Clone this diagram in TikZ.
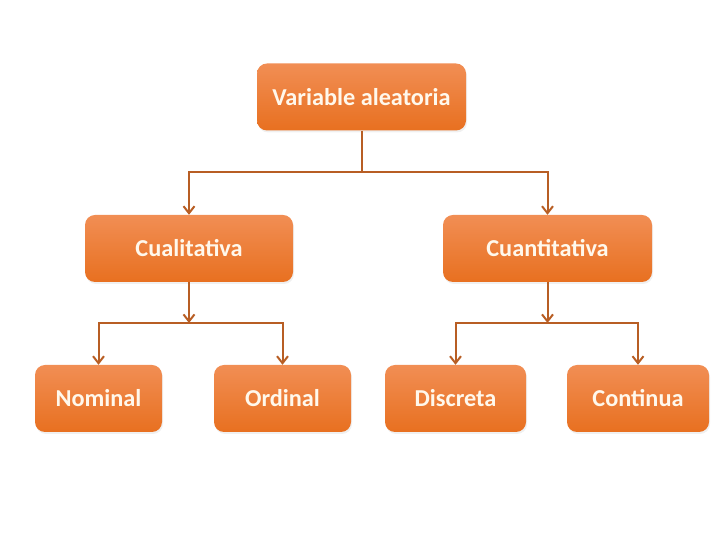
\documentclass[tikz,border=0pt]{standalone}
\usepackage{fontspec}
\setmainfont{Carlito}
\usetikzlibrary{arrows.meta,shadows}
\definecolor{orTop}{RGB}{241,142,84}
\definecolor{orBot}{RGB}{232,112,32}
\definecolor{lineC}{RGB}{184,94,36}
\definecolor{txtC}{RGB}{255,248,236}
\tikzset{
  box/.style={rounded corners=10pt, top color=orTop, bottom color=orBot, draw=none,
    minimum height=67pt, inner sep=0pt, text=txtC,
    font=\fontsize{24.3}{29}\selectfont\bfseries,
    drop shadow={opacity=0.12, shadow xshift=1pt, shadow yshift=-2pt}},
  conn/.style={draw=lineC, line width=2pt},
  arr/.style={conn, -{Straight Barb[length=7pt,width=11pt,line width=2pt]}}
}
\begin{document}
\begin{tikzpicture}[x=1pt,y=1pt]
\useasboundingbox (0,0) rectangle (720,540);
\node[box, minimum width=209pt] (va)   at (361.5,443) {Variable aleatoria};
\node[box, minimum width=208pt] (cual) at (189,291.5) {Cualitativa};
\node[box, minimum width=209pt] (cuan) at (547.5,291.5) {Cuantitativa};
\node[box, minimum width=127pt] (nom)  at (98.5,141.5) {Nominal};
\node[box, minimum width=137pt] (ord)  at (282.5,141.5) {Ordinal};
\node[box, minimum width=141pt] (dis)  at (455.5,141.5) {Discreta};
\node[box, minimum width=142pt] (con)  at (638,141.5) {Continua};
\coordinate (j1) at (va.south |- 0,368);
\coordinate (j2) at (cual.south |- 0,217);
\coordinate (j3) at (cuan.south |- 0,217);
\draw[conn] (va.south) -- (j1);
\draw[arr] (j1) -| (cual.north);
\draw[arr] (j1) -| (cuan.north);
\draw[arr] (cual.south) -- (j2);
\draw[arr] (j2) -| (nom.north);
\draw[arr] (j2) -| (ord.north);
\draw[arr] (cuan.south) -- (j3);
\draw[arr] (j3) -| (dis.north);
\draw[arr] (j3) -| (con.north);
\end{tikzpicture}
\end{document}
